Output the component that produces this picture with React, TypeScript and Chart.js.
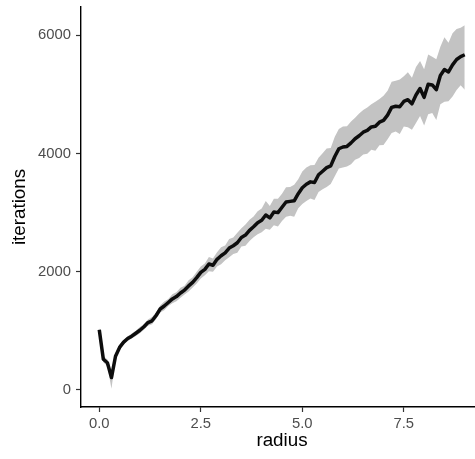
import React, { useEffect, useRef } from "react";
import { Chart, registerables } from "chart.js";

Chart.register(...registerables);

const radius = [
  0.0, 0.1, 0.2, 0.3, 0.4, 0.5, 0.6, 0.7, 0.8, 0.9,
  1.0, 1.1, 1.2, 1.3, 1.4, 1.5, 1.6, 1.7, 1.8, 1.9,
  2.0, 2.1, 2.2, 2.3, 2.4, 2.5, 2.6, 2.7, 2.8, 2.9,
  3.0, 3.1, 3.2, 3.3, 3.4, 3.5, 3.6, 3.7, 3.8, 3.9,
  4.0, 4.1, 4.2, 4.3, 4.4, 4.5, 4.6, 4.7, 4.8, 4.9,
  5.0, 5.1, 5.2, 5.3, 5.4, 5.5, 5.6, 5.7, 5.8, 5.9,
  6.0, 6.1, 6.2, 6.3, 6.4, 6.5, 6.6, 6.7, 6.8, 6.9,
  7.0, 7.1, 7.2, 7.3, 7.4, 7.5, 7.6, 7.7, 7.8, 7.9,
  8.0, 8.1, 8.2, 8.3, 8.4, 8.5, 8.6, 8.7, 8.8, 8.9,
  9.0,
];

const meanIterations = [
  1020, 520, 460, 210, 570, 720, 810, 870, 910, 960,
  1010, 1070, 1140, 1170, 1260, 1370, 1420, 1480, 1540, 1580,
  1640, 1690, 1760, 1820, 1900, 1990, 2040, 2130, 2110, 2210,
  2270, 2320, 2400, 2440, 2490, 2580, 2620, 2700, 2760, 2830,
  2870, 2960, 2910, 3010, 3000, 3090, 3180, 3190, 3200, 3320,
  3420, 3480, 3520, 3510, 3640, 3700, 3760, 3790, 3950, 4080,
  4110, 4120, 4180, 4250, 4300, 4360, 4390, 4450, 4460, 4530,
  4560, 4650, 4780, 4800, 4790, 4880, 4910, 4840, 4990, 5100,
  4950, 5170, 5160, 5080, 5320, 5420, 5380, 5500, 5590, 5640,
  5670,
];

const lowerIterations = [
  980, 470, 400, 20, 520, 680, 775, 830, 870, 915,
  960, 1020, 1085, 1110, 1200, 1310, 1350, 1420, 1465, 1500,
  1560, 1615, 1665, 1735, 1800, 1885, 1940, 2010, 2000, 2090,
  2125, 2195, 2245, 2300, 2320, 2425, 2440, 2520, 2585, 2635,
  2670, 2725, 2710, 2785, 2765, 2860, 2930, 2945, 2930, 3075,
  3145, 3195, 3240, 3215, 3350, 3395, 3435, 3485, 3615, 3745,
  3765, 3780, 3820, 3895, 3925, 3985, 3995, 4065, 4045, 4140,
  4145, 4240, 4345, 4370, 4330, 4455, 4445, 4400, 4515, 4635,
  4475, 4665, 4685, 4565, 4835, 4875, 4885, 4965, 5075, 5155,
  5080,
];

const upperIterations = [
  1060, 575, 515, 330, 620, 765, 845, 910, 955, 1000,
  1065, 1110, 1190, 1235, 1310, 1430, 1495, 1540, 1620, 1655,
  1730, 1765, 1855, 1905, 2000, 2090, 2140, 2250, 2225, 2330,
  2415, 2445, 2555, 2580, 2660, 2735, 2800, 2880, 2935, 3025,
  3070, 3195, 3110, 3235, 3235, 3320, 3430, 3435, 3470, 3565,
  3695, 3765, 3800, 3805, 3930, 4005, 4085, 4095, 4285, 4415,
  4455, 4460, 4540, 4605, 4675, 4735, 4780, 4835, 4875, 4920,
  4975, 5060, 5215, 5230, 5250, 5305, 5375, 5280, 5465, 5565,
  5425, 5675, 5635, 5595, 5805, 5965, 5875, 6035, 6105, 6125,
  6170,
];

const xTicks = [0, 2.5, 5.0, 7.5];
const yTicks = [0, 2000, 4000, 6000];

const FONT = '"Liberation Sans", Arial, Helvetica, sans-serif';

export default function App() {
  const ref = useRef<HTMLCanvasElement | null>(null);

  useEffect(() => {
    if (!ref.current) return;
    const toPts = (ys: number[]) => radius.map((x, i) => ({ x, y: ys[i] }));
    const chart = new Chart(ref.current, {
      type: "line",
      data: {
        datasets: [
          {
            label: "lower",
            data: toPts(lowerIterations),
            borderWidth: 0,
            borderColor: "rgba(0,0,0,0)",
            pointRadius: 0,
            fill: false,
            order: 3,
          },
          {
            label: "upper",
            data: toPts(upperIterations),
            borderWidth: 0,
            borderColor: "rgba(0,0,0,0)",
            backgroundColor: "#c3c3c3",
            pointRadius: 0,
            fill: "-1",
            order: 2,
          },
          {
            label: "mean",
            data: toPts(meanIterations),
            borderColor: "#0d0d0d",
            borderWidth: 3.5,
            pointRadius: 0,
            fill: false,
            borderJoinStyle: "round",
            borderCapStyle: "butt",
            order: 0,
          },
        ],
      },
      options: {
        responsive: false,
        animation: false,
        devicePixelRatio: 1,
        layout: { padding: { top: 7, left: 0, right: 0, bottom: 0 } },
        plugins: {
          legend: { display: false },
          tooltip: { enabled: false },
          filler: { drawTime: "beforeDatasetsDraw" },
        },
        scales: {
          x: {
            type: "linear",
            min: -0.45,
            max: 9.45,
            afterBuildTicks: (s: any) => {
              s.ticks = xTicks.map((v) => ({ value: v }));
            },
            afterFit: (s: any) => {
              s.height = 52;
              s.paddingLeft = 0;
              s.paddingRight = 0;
            },
            ticks: {
              autoSkip: false,
              maxRotation: 0,
              padding: 3,
              color: "#4d4d4d",
              font: { family: FONT, size: 14.8 },
              callback: (v: any) => Number(v).toFixed(1),
            },
            grid: {
              display: true,
              drawOnChartArea: false,
              drawTicks: true,
              tickLength: 5,
              tickColor: "#333333",
              tickWidth: 1.2,
            },
            border: { display: true, color: "#000000", width: 1.4 },
            title: {
              display: true,
              text: "radius",
              color: "#000000",
              font: { family: FONT, size: 18.8 },
              padding: { top: 0, bottom: 7 },
            },
          },
          y: {
            type: "linear",
            min: -288,
            max: 6478,
            afterBuildTicks: (s: any) => {
              s.ticks = yTicks.map((v) => ({ value: v }));
            },
            afterFit: (s: any) => {
              s.width = 81;
              s.paddingTop = 0;
              s.paddingBottom = 0;
            },
            ticks: {
              autoSkip: false,
              padding: 5,
              color: "#4d4d4d",
              font: { family: FONT, size: 14.8 },
              callback: (v: any) => String(v),
            },
            grid: {
              display: true,
              drawOnChartArea: false,
              drawTicks: true,
              tickLength: 5,
              tickColor: "#333333",
              tickWidth: 1.2,
            },
            border: { display: true, color: "#000000", width: 1.4 },
            title: {
              display: true,
              text: "iterations",
              color: "#000000",
              font: { family: FONT, size: 18.8 },
              padding: { top: 9, bottom: 0 },
            },
          },
        },
      },
    });
    return () => chart.destroy();
  }, []);

  return (
    <div
      style={{
        position: "fixed",
        left: 0,
        top: 0,
        width: 475,
        height: 459,
        overflow: "hidden",
        background: "#ffffff",
      }}
    >
      <canvas ref={ref} width={483} height={459} style={{ display: "block" }} />
    </div>
  );
}
